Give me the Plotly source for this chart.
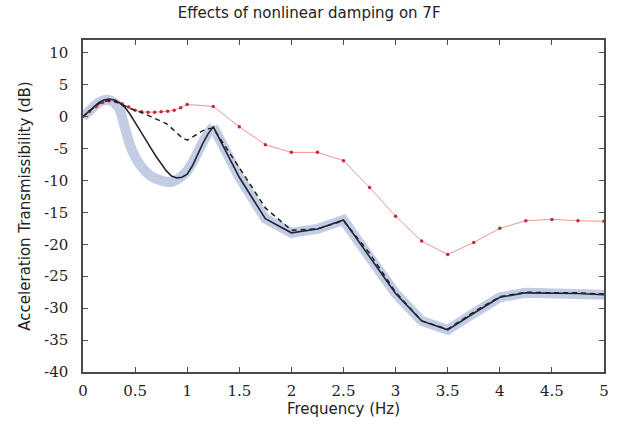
import plotly.graph_objects as go

# ---------------- data ----------------
fine_x = [0, 0.05, 0.1, 0.15, 0.2, 0.25, 0.3, 0.35, 0.4, 0.45, 0.5, 0.55, 0.6, 0.65,
          0.7, 0.75, 0.8, 0.85, 0.9, 0.95, 1.0, 1.05, 1.1, 1.15, 1.2]
coarse_x = [1.25, 1.5, 1.75, 2.0, 2.25, 2.5, 2.75, 3.0, 3.25, 3.5, 3.75, 4.0, 4.25, 4.5, 4.75, 5.0]

solid_fine = [0, 0.7, 1.5, 2.2, 2.6, 2.75, 2.6, 2.2, 1.5, 0.4, -0.9, -2.3, -3.6, -4.9,
              -6.2, -7.4, -8.5, -9.3, -9.6, -9.5, -9.0, -7.7, -5.9, -4.2, -2.7]
solid_coarse = [-1.6, -9.5, -16.0, -18.2, -17.6, -16.2, -22.0, -27.7, -32.0, -33.4,
                -30.8, -28.3, -27.6, -27.6, -27.7, -27.9]

band_fine = [0, 0.7, 1.5, 2.2, 2.6, 2.6, 2.2, 1.2, -1.6, -4.4, -6.3, -7.6, -8.6, -9.3,
             -9.7, -10.0, -10.2, -10.2, -9.9, -9.3, -8.5, -7.2, -5.6, -4.0, -2.6]
band_coarse = solid_coarse

dashed_fine = [0, 0.7, 1.4, 2.0, 2.4, 2.5, 2.4, 2.1, 1.7, 1.3, 1.0, 0.75, 0.4, 0.0,
               -0.4, -0.7, -1.1, -1.8, -2.6, -3.3, -3.7, -3.2, -2.6, -2.2, -1.9]
dashed_coarse = [-1.8, -8.0, -14.3, -17.8, -17.6, -16.3, -21.4, -27.5, -32.0, -33.3,
                 -30.6, -28.2, -27.5, -27.6, -27.6, -27.8]

red_x = [0, 0.0625, 0.125, 0.1875, 0.25, 0.3125, 0.375, 0.4375, 0.5, 0.5625, 0.625,
         0.6875, 0.75, 0.8125, 0.875, 0.9375, 1.0, 1.25, 1.5, 1.75, 2.0, 2.25, 2.5,
         2.75, 3.0, 3.25, 3.5, 3.75, 4.0, 4.25, 4.5, 4.75, 5.0]
red_y = [0, 0.8, 1.6, 2.2, 2.5, 2.4, 2.0, 1.5, 1.0, 0.75, 0.7, 0.7, 0.75, 0.85, 1.0,
         1.4, 1.9, 1.6, -1.6, -4.4, -5.6, -5.6, -6.9, -11.1, -15.6, -19.5, -21.6,
         -19.7, -17.5, -16.3, -16.1, -16.3, -16.4]

x_ticks = [0, 0.5, 1, 1.5, 2, 2.5, 3, 3.5, 4, 4.5, 5]
x_ticktext = ["0", "0.5", "1", "1.5", "2", "2.5", "3", "3.5", "4", "4.5", "5"]
y_ticks = [10, 5, 0, -5, -10, -15, -20, -25, -30, -35, -40]
y_ticktext = ["10", "5", "0", "-5", "-10", "-15", "-20", "-25", "-30", "-35", "-40"]

SANS = "DejaVu Sans"
SERIF = "DejaVu Serif"

# ---------------- figure ----------------
fig = go.Figure()
fig.add_trace(go.Scatter(x=fine_x + coarse_x[:1], y=band_fine + band_coarse[:1], mode="lines",
                         line=dict(color="rgb(194,204,228)", width=10, shape="spline",
                                   smoothing=0.4),
                         showlegend=False, hoverinfo="skip"))
fig.add_trace(go.Scatter(x=coarse_x, y=band_coarse, mode="lines",
                         line=dict(color="rgb(194,204,228)", width=10),
                         showlegend=False, hoverinfo="skip"))
fig.add_trace(go.Scatter(x=red_x, y=red_y, mode="lines+markers",
                         line=dict(color="rgb(238,150,150)", width=1),
                         marker=dict(color="rgb(200,40,60)", size=3.5),
                         showlegend=False))
fig.add_trace(go.Scatter(x=fine_x + coarse_x, y=dashed_fine + dashed_coarse, mode="lines",
                         line=dict(color="rgb(30,30,35)", width=1.5, dash="5px,4px"),
                         showlegend=False))
fig.add_trace(go.Scatter(x=fine_x + coarse_x, y=solid_fine + solid_coarse, mode="lines",
                         line=dict(color="rgb(35,38,50)", width=1.6),
                         showlegend=False))

axis_common = dict(showline=True, linecolor="#4a4a4a", linewidth=1.5, mirror="ticks",
                   ticks="inside", ticklen=5, tickcolor="#4a4a4a", tickwidth=1.2,
                   showgrid=False, zeroline=False,
                   tickfont=dict(family=SERIF, size=15, color="#222"))

fig.update_layout(
    width=622, height=428,
    margin=dict(l=83, r=18, t=40, b=56),
    paper_bgcolor="white", plot_bgcolor="white",
    title=dict(text="Effects of nonlinear damping on 7F", x=0.497, xanchor="center",
               y=0.97, yanchor="middle",
               font=dict(family=SANS, size=15, color="#222")),
    xaxis=dict(range=[0, 5], tickvals=x_ticks, ticktext=x_ticktext,
               ticklabelstandoff=4,
               title=dict(text="Frequency (Hz)", standoff=5,
                          font=dict(family=SANS, size=15, color="#222")),
               **axis_common),
    yaxis=dict(range=[-40, 12], tickvals=y_ticks, ticktext=y_ticktext,
               ticklabelstandoff=10,
               title=dict(text="Acceleration Transmissibility (dB)", standoff=10,
                          font=dict(family=SANS, size=15, color="#222")),
               **axis_common),
)

fig.write_html("out.html")
